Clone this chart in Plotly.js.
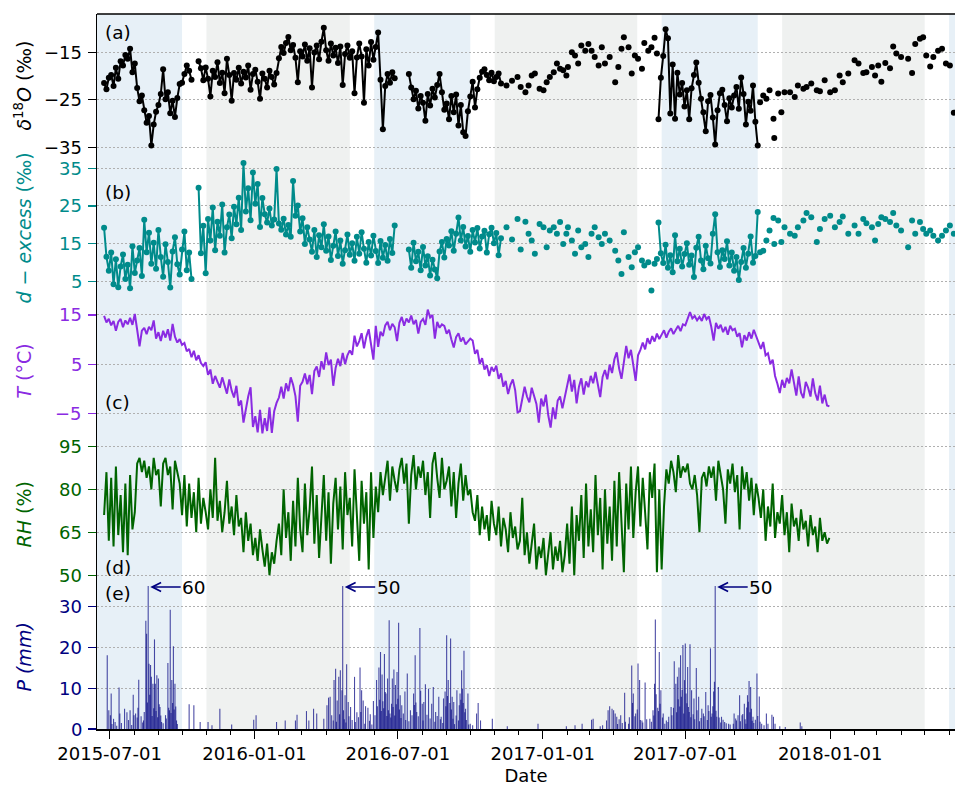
<!DOCTYPE html>
<html><head><meta charset="utf-8">
<script src="https://cdn.plot.ly/plotly-3.0.1.min.js"></script>
<style>html,body{margin:0;padding:0;background:#fff}</style>
</head><body><div id="chart" style="width:955px;height:789px"></div>
<script>
// ---------- DATA (day offsets are days since 2015-07-01) ----------
// Season shading
const wetStart = ['2015-06-01','2016-06-01','2017-06-01','2018-06-01'];
const wetEnd   = ['2015-10-01','2016-10-01','2017-10-01','2018-10-01'];
const dryStart = ['2015-11-01','2016-11-01','2017-11-01'];
const dryEnd   = ['2016-05-01','2017-05-01','2018-05-01'];

// Tick values / labels of the five panels
const ticksA = [-35, -25, -15], labelsA = ['\u221235', '\u221225', '\u221215'];
const ticksB = [5, 15, 25, 35], labelsB = ['5', '15', '25', '35'];
const ticksC = [-5, 5, 15], labelsC = ['\u22125', '5', '15'];
const ticksD = [50, 65, 80, 95], labelsD = ['50', '65', '80', '95'];
const ticksE = [0, 10, 20, 30], labelsE = ['0', '10', '20', '30'];

// (a) delta18O, daily samples (every 3rd day shown), first day -7, null = no sample
const o18Day0 = -7;
const o18Dense = [
 -21.5,-22.8,-20.4,
 -19.8,-22.1,-18.3,-20.6,-16.9,-17.8,-15.6,-16.4,-14.3,-19.2,
 -17.4,-22.5,-25.3,-24.1,-27.2,-29.8,-28.4,-34.6,-30.2,-27.5,
 -26.1,-23.8,-18.6,-24.9,-23.4,-27.8,-25.2,-28.6,-24.6,-21.7,
 -21.4,-19.6,-17.8,-18.9,-20.8,null,null,-16.9,-18.4,-20.9,-18.2,
 -20.6,-24.3,-18.9,-20.2,-17.1,-21.5,-19.3,-23.6,-16.4,-19.8,
 -25.2,-19.4,-20.8,-18.3,-21.6,-19.1,-20.3,-17.8,-22.9,-19.6,
 -18.7,-21.2,-24.8,-19.5,-20.6,-22.4,-18.9,-20.2,-21.8,-19.4,
 -16.3,-13.9,-15.2,-13.1,-11.8,-14.6,-13.5,-16.2,-21.3,-14.8,
 -15.9,-13.4,-16.8,-14.2,-22.4,-15.1,-13.6,-16.5,-12.8,-9.9,
 -14.6,-16.8,-13.2,-15.7,-14.1,-17.3,-13.8,-21.9,-15.4,-13.6,-16.2,
 -14.8,-23.6,-16.1,-13.2,-15.9,-25.6,-14.4,-17.8,-12.9,-16.6,
 -13.9,-10.9,-20.8,-31.2,-22.1,-19.6,-21.4,-19.2,-20.5,null,
 null,null,null,null,-19.6,-22.4,-24.9,-23.1,-26.8,-24.2,
 -25.6,-29.4,-23.8,-26.2,-22.7,-24.5,-21.9,-19.6,-23.4,-27.1,
 -25.8,-29.1,-24.2,-27.6,-23.9,-30.4,-26.1,-31.8,-32.6,-27.4,
 -24.3,-21.2,-26.6,-22.8,-20.4,-19.1,-18.6,-19.8,-20.9,-19.3,-21.1,
 -20.2,-19.5,-21.6];
const o18Day0b = 697;
const o18Dense2 = [-29.1,-20.4,-15.8,-10.2,-12.1,-27.9,-17.6,-29.0,-19.3,-23.9,-21.5,-26.4,-23.0,-29.1,
 -22.6,-19.8,-17.2,-21.4,-24.8,-27.6,-31.6,-25.3,-24.0,-28.7,-34.4,-27.2,-23.6,-22.9,-26.1,-29.5,
 -24.7,-26.6,-24.1,-22.3,-26.9,-20.3,-23.8,-30.2,-25.4,-27.3,-22.0,-29.6,-34.6];
const o18Sparse = [[504,-22.0],[511,-21.0],[518,-20.2],[522,-22.3],[528,-23.4],[532,-22.0],[536,-19.9],[540,-19.5],
 [546,-22.7],[551,-23.0],[555,-21.3],[559,-20.2],[564,-19.2],[568,-17.4],[572,-18.5],[576,-18.8],[580,-19.9],
 [582,-18.1],[587,-15.0],[591,-15.7],[595,-17.4],[599,-13.6],[604,-14.7],[608,-13.3],[612,-14.7],[616,-16.0],
 [621,-17.8],[625,-14.0],[629,-17.4],[635,-16.0],[642,-21.3],[646,-18.1],[650,-14.3],[653,-11.9],[659,-14.0],
 [663,-19.5],[667,-15.7],[671,-16.4],[676,-18.5],[679,-13.1],[684,-14.7],[688,-14.0],[692,-12.0],[695,-15.3],
 [826,-25.5],[830,-24.1],[834,-24.8],[838,-23.0],[843,-29.0],[844,-33.0],[849,-23.7],[853,-27.6],[857,-23.4],
 [864,-23.4],[870,-24.4],[874,-22.0],[881,-22.7],[885,-22.3],[891,-21.6],[898,-23.0],[902,-23.2],[908,-20.9],
 [915,-23.4],[921,-23.0],[927,-19.9],[931,-21.3],[938,-19.5],[946,-16.7],[951,-17.4],[957,-19.4],[961,-19.2],
 [968,-18.1],[972,-19.9],[976,-17.8],[980,-21.2],[985,-17.3],[991,-18.4],[995,-13.8],[999,-15.3],[1005,-16.0],
 [1014,-16.4],[1019,-19.4],[1023,-13.3],[1029,-12.2],[1033,-11.9],[1037,-15.7],[1042,-18.0],[1046,-16.0],
 [1052,-14.7],[1057,-14.3],[1062,-17.4],[1067,-17.8],[1072,-27.7]];

// (b) d-excess, same sampling days
const dexDense = [
 19.2,11.5,7.8,
 12.6,4.2,10.8,3.4,8.9,12.1,5.6,9.4,3.1,14.3,
 7.2,10.5,13.8,6.4,21.3,12.7,17.9,9.6,15.2,8.3,
 18.6,11.4,6.2,14.8,10.1,3.3,12.9,16.7,9.5,6.8,
 13.4,18.2,7.9,12.6,5.6,null,null,29.8,12.4,19.7,7.1,
 21.5,15.8,24.6,13.2,20.8,17.1,25.4,12.6,19.3,22.7,
 16.4,24.8,20.1,27.2,18.6,36.4,23.5,29.7,21.2,33.9,
 25.6,30.8,19.4,27.1,22.8,20.6,24.3,19.8,21.4,34.8,
 20.3,18.7,21.6,17.4,19.9,16.8,31.6,22.4,25.1,18.2,
 21.7,14.9,19.3,16.1,12.8,18.6,11.4,17.2,14.0,20.1,
 13.1,16.9,10.6,14.4,18.2,11.7,15.8,9.6,13.2,17.4,12.0,
 15.1,10.4,16.8,12.3,18.0,13.6,9.9,15.4,11.8,17.1,
 13.0,9.8,15.7,11.2,14.6,10.4,16.2,12.5,19.8,null,
 null,null,null,null,13.4,8.6,15.2,10.3,12.8,7.9,
 14.1,9.2,11.6,6.5,10.7,8.1,5.8,12.9,15.4,11.3,
 16.2,14.5,18.3,13.1,17.6,21.9,15.8,19.4,14.2,17.0,
 12.8,18.6,15.3,19.1,13.7,16.9,18.4,12.6,17.5,19.2,15.1,
 17.8,11.9,16.4];
const dexDense2 = [20.6,12.4,9.8,14.7,8.6,11.9,7.4,17.2,10.3,13.6,8.9,12.2,15.1,9.4,11.8,6.1,13.9,16.8,10.5,8.2,
 14.4,11.1,9.7,17.6,22.8,12.7,8.8,13.2,10.9,15.6,9.2,12.6,7.8,11.4,5.3,10.1,13.8,8.6,12.3,16.9,9.9,11.7,23.4];
const dexSparse = [[504,19.3],[511,16.1],[518,21.5],[522,13.4],[528,20.8],[532,17.6],[536,15.8],[540,12.3],
 [546,20.2],[551,19.3],[555,14.0],[559,18.5],[564,19.3],[568,17.6],[572,20.7],[576,14.9],[580,17.6],[582,19.3],
 [587,15.8],[591,12.3],[595,18.5],[599,14.0],[604,14.9],[608,11.4],[612,17.6],[616,19.3],[621,16.7],[625,14.9],
 [629,17.6],[635,15.8],[642,13.1],[646,10.5],[650,6.9],[653,18.0],[659,11.4],[663,8.7],[667,12.7],[671,14.0],
 [676,10.5],[679,9.2],[684,10.0],[688,2.5],[692,9.6],[695,10.9],
 [826,12.7],[830,13.1],[834,15.8],[838,18.5],[843,21.8],[844,14.9],[849,21.1],[853,15.4],[857,19.3],[864,17.6],
 [870,17.1],[874,19.3],[881,21.1],[885,23.1],[891,22.0],[898,15.4],[902,18.9],[908,21.5],[915,22.4],[921,19.3],
 [927,20.7],[931,22.2],[938,17.6],[946,19.8],[951,17.6],[957,21.5],[961,20.4],[968,19.3],[972,15.8],[976,20.2],
 [980,22.0],[985,21.5],[991,20.7],[995,23.1],[999,19.8],[1005,18.5],[1014,14.0],[1019,21.1],[1023,17.6],
 [1029,20.7],[1033,18.9],[1037,17.6],[1042,18.5],[1046,17.1],[1052,15.8],[1057,17.1],[1062,18.5],[1067,19.8],
 [1072,17.6]];

// (c) air temperature and (d) relative humidity, every 3rd day from day -7
const metDay0 = -7;
const tempC = [
 14.8,13.5,14.2,
 12.9,13.8,11.8,13.6,14.2,12.5,13.9,13.1,14.4,13.0,
 15.2,12.0,8.6,11.8,12.4,11.1,12.6,11.9,13.9,10.2,
 11.5,9.7,11.8,10.4,12.1,9.8,13.2,10.6,9.4,10.1,
 8.9,9.3,7.6,8.1,6.4,7.7,5.8,6.8,5.2,4.6,5.4,
 2.8,3.9,1.0,2.6,1.4,0.2,2.3,0.8,-1.0,1.9,
 -0.4,-1.8,0.6,-3.5,-2.4,-6.9,-4.1,-1.6,0.3,-7.8,
 -5.6,-8.9,-4.3,-9.1,-6.0,-8.6,-3.8,-9.0,-4.6,-2.9,
 -1.8,0.4,-2.0,1.1,-0.5,2.3,0.8,-1.5,-6.7,0.6,
 1.4,3.1,0.9,2.8,-1.1,3.6,4.5,2.4,5.6,3.9,
 7.4,4.8,5.9,0.6,4.2,6.1,4.6,7.3,5.0,6.8,7.8,
 6.9,10.8,8.6,9.7,11.3,8.2,10.6,12.1,9.1,5.9,
 12.8,8.5,11.6,10.7,12.9,13.6,11.9,13.2,12.5,9.7,
 13.4,14.6,12.8,14.3,13.5,14.9,13.1,14.0,11.2,13.6,
 14.2,13.0,16.1,14.5,15.0,10.2,13.6,12.4,13.1,12.8,
 11.2,12.0,10.0,8.4,10.5,11.3,9.6,10.4,9.0,9.5,
 10.2,9.8,7.1,7.9,5.0,6.2,3.9,4.8,2.6,4.4,3.5,
 4.7,2.0,3.1,0.4,1.6,-1.1,0.8,1.9,-0.3,-4.8,
 -4.6,-2.2,0.4,-1.6,-2.8,0.2,-1.3,-3.1,-6.9,-2.0,
 -3.6,-1.2,-5.4,-7.9,-3.8,-6.2,-2.4,-1.6,-4.0,-1.9,
 0.8,2.9,-0.6,1.8,-3.0,0.4,2.1,-1.2,1.5,0.3,
 2.6,1.1,3.4,0.6,-1.7,2.4,3.8,1.9,4.9,3.2,
 6.0,7.4,4.1,2.0,5.7,8.7,6.2,7.9,4.8,1.6,
 6.8,7.9,9.4,8.0,10.3,9.1,10.7,9.6,11.2,10.1,
 11.0,11.9,10.4,11.6,12.3,11.1,12.0,12.8,11.7,13.1,
 12.9,14.2,15.6,14.3,14.8,13.9,14.6,13.8,15.2,14.1,14.7,
 12.6,9.8,13.4,12.2,13.0,11.5,12.6,11.0,12.8,11.9,
 12.2,10.6,11.3,8.4,10.9,9.8,11.5,10.2,12.0,10.8,
 9.7,8.1,9.5,6.8,7.2,5.0,5.9,2.6,1.0,-0.9,
 1.8,0.2,2.2,1.1,3.9,1.6,-1.4,2.5,-0.8,-1.9,
 1.4,0.2,-1.6,2.1,-0.9,-2.4,0.6,-3.0,-1.2,-3.4,-3.6];
const relHum = [
 71,86,62,
 84,60,88,64,78,58,82,57,85,66,
 72,89,91,86,90,84,88,80,91,85,
 87,74,89,91,85,88,73,90,86,82,
 71,85,67,82,70,79,65,84,68,77,72,
 66,80,70,91,69,76,65,72,83,68,
 74,64,78,67,70,58,72,62,68,57,
 63,55,66,59,53,61,50,58,54,62,
 68,57,80,63,72,55,76,60,84,66,
 58,82,64,73,88,61,78,56,70,85,
 62,79,54,75,84,66,81,59,86,71,77,
 60,87,73,55,83,68,79,52,86,63,
 81,72,86,78,84,90,76,88,83,79,
 87,91,82,89,68,85,92,80,88,84,
 90,78,86,70,89,93,84,77,91,80,
 83,88,74,86,70,82,89,76,85,78,
 80,72,69,78,64,74,66,71,62,76,68,
 64,74,60,70,66,58,72,63,67,59,
 62,77,57,65,54,61,68,52,60,56,
 63,50,58,65,52,60,55,62,51,57,
 68,54,74,50,71,62,78,56,82,60,
 73,58,85,64,77,52,80,61,74,55,
 83,60,86,70,51,82,66,88,63,79,
 88,67,84,72,59,86,77,89,51,80,
 52,74,87,82,90,86,79,92,84,88,
 86,89,82,80,85,78,65,84,86,81,88,
 84,88,76,90,85,80,68,87,82,89,
 79,85,66,88,80,86,76,84,71,82,
 77,70,80,62,74,67,82,63,72,68,
 78,64,72,58,75,67,70,62,73,66,
 69,60,71,64,67,58,70,62,65,61,63];

// (e) daily precipitation [day, mm]
const rain = [[-3,18.1],[-1,4.6],[1,3.4],[2,8.7],[7,1.7],[12,10.2],[13,3.8],[19,5.0],[22,4.1],[26,4.6],[30,8.4],
 [31,3.4],[33,3.8],[36,5.2],[37,12.1],[43,2.1],[46,26.6],[47,23.4],[49,60],[50,16.0],[52,15.7],[53,12.8],[55,11.1],
 [57,22.0],[58,11.1],[60,13.2],[62,12.4],[64,5.4],[66,1.7],[71,3.4],[74,16.2],[76,4.6],[77,29.3],[79,12.0],
 [81,20.3],[83,11.1],[85,2.1],[101,6.1],[107,5.8],[115,1.7],[125,1.7],[130,0.9],[140,5.0],[155,1.1],[183,2.3],
 [186,3.4],[212,1.7],[223,2.1],[236,2.1],[238,3.5],[250,4.4],[253,2.1],[259,5.0],[263,3.8],[272,2.5],[276,5.8],
 [278,7.7],[280,7.9],[282,3.4],[285,12.0],[287,14.8],[289,7.0],[291,12.8],[293,14.4],[295,9.5],[296,50],[297,4.6],
 [299,8.3],[301,15.9],[303,6.6],[306,5.4],[311,12.8],[314,4.1],[318,15.1],[320,9.5],[322,7.0],[325,5.6],[328,5.2],
 [331,3.6],[335,6.9],[339,12.0],[342,15.1],[344,18.9],[346,13.4],[349,18.4],[351,8.7],[353,12.4],[355,26.7],
 [356,3.8],[359,12.4],[361,14.6],[363,10.8],[365,14.0],[367,26.1],[369,8.3],[371,5.8],[375,9.2],[378,13.6],
 [382,4.6],[386,8.7],[388,18.1],[390,4.2],[394,24.8],[397,6.2],[399,6.6],[401,11.0],[405,9.9],[409,6.2],[411,10.3],
 [414,4.2],[418,7.9],[421,3.0],[424,7.5],[426,9.2],[428,23.0],[430,12.0],[433,22.2],[435,7.9],[437,6.6],[441,9.5],
 [444,5.8],[445,8.7],[447,14.4],[450,19.2],[452,5.0],[455,8.7],[458,1.3],[461,0.9],[466,3.8],[468,6.4],[471,2.1],
 [486,2.5],[505,0.7],
 [544,1.3],[580,0.7],[591,0.9],[600,1.3],[612,2.3],[614,2.5],[623,0.7],[626,0.9],[631,2.1],[633,4.6],[635,5.6],
 [638,5.0],[640,4.6],[642,3.8],[644,3.0],[649,3.4],[654,8.9],[659,1.3],[663,15.6],[665,8.7],[668,3.8],[671,16.1],
 [673,12.0],[676,2.1],[680,11.4],[686,2.5],[690,4.6],[692,11.1],[693,26.9],[696,5.2],[698,18.9],[700,9.5],
 [703,3.8],[707,2.1],[710,3.0],[713,5.4],[717,16.6],[719,11.1],[721,12.8],[723,15.1],[725,18.1],[726,7.9],
 [728,20.6],[730,12.0],[731,21.0],[734,15.2],[735,5.4],[737,20.8],[739,9.5],[742,7.5],[745,15.0],[748,7.9],
 [752,5.0],[754,3.8],[757,9.1],[760,5.8],[763,19.8],[765,3.8],[768,11.6],[769,50],[771,3.0],[773,10.3],[777,3.0],
 [781,1.7],[786,1.3],[792,1.3],[793,3.8],[796,2.1],[800,8.3],[803,3.4],[806,6.2],[808,1.3],[810,8.3],[812,11.8],
 [814,10.3],[815,5.0],[817,3.0],[820,2.3],[822,13.6],[825,8.0],[828,1.3],[831,0.9],[834,3.8],[836,1.3],[841,3.5],
 [843,3.0],[845,1.3],[851,0.7],[858,0.5],[877,1.6],[879,0.7]];
const rainSmall = [[3,1.2],[5,2.5],[9,0.8],[15,1.5],[24,2.2],[28,1.0],[35,2.8],[40,3.1],[42,1.6],[44,4.2],[48,6.5],
 [51,8.4],[54,3.2],[56,5.1],[59,4.4],[61,2.9],[63,6.1],[65,3.3],[68,1.4],[72,2.6],[75,5.2],[78,3.9],[80,6.4],
 [82,4.8],[84,5.5],[86,1.2],[284,2.1],[288,1.8],[292,3.6],[298,2.4],[300,1.6],[304,3.1],[308,2.2],[312,1.7],
 [316,2.9],[319,4.2],[324,1.3],[330,2.0],[333,1.1],[337,3.4],[340,5.6],[343,7.2],[345,4.4],[347,6.8],[348,5.1],
 [350,9.1],[352,3.2],[354,4.6],[357,2.8],[358,6.2],[360,5.4],[362,3.3],[364,6.1],[366,7.4],[368,4.8],[370,2.7],
 [373,3.8],[376,2.2],[380,1.9],[384,3.4],[387,5.9],[389,6.5],[392,3.1],[395,9.4],[398,2.1],[403,3.5],[407,2.6],
 [413,1.8],[416,3.2],[420,2.4],[423,1.5],[427,5.6],[429,8.1],[432,6.4],[434,4.8],[436,2.5],[438,1.2],[440,3.3],
 [443,2.1],[446,7.2],[448,9.8],[449,6.4],[451,4.1],[453,2.2],[456,1.1],
 [645,1.2],[647,2.4],[651,1.5],[655,1.8],[660,2.9],[664,6.4],[667,3.1],[670,4.8],[674,2.2],[677,1.6],[682,2.4],
 [688,1.8],[691,3.3],[694,8.5],[697,4.4],[699,6.2],[702,2.8],[705,1.3],[709,1.7],[714,3.4],[716,5.2],[720,4.1],
 [722,7.3],[724,5.5],[727,9.6],[729,3.8],[732,8.7],[733,6.3],[736,4.2],[738,2.9],[741,3.6],[743,2.4],[746,4.6],
 [749,1.9],[751,2.7],[755,3.1],[759,2.2],[761,4.4],[764,3.0],[766,5.6],[767,9.2],[770,4.5],[774,2.8],[776,1.6],
 [779,2.3],[783,1.4],[788,1.1],[795,2.6],[798,3.4],[801,1.9],[804,3.7],[807,2.4],[809,5.3],[811,6.7],[813,4.1],
 [816,2.0],[818,1.5],[823,3.2],[826,1.8]];
const peakDay = [49, 296, 769];
const peakLabel = ['60', '50', '50'];

// ---------- BUILD ----------
const DAY0 = Date.UTC(2015, 6, 1);
function dayToDate(d) { return new Date(DAY0 + d * 86400000).toISOString().slice(0, 10); }
function gridDates(d0, step, n) { const o = []; for (let i = 0; i < n; i++) o.push(dayToDate(d0 + step * i)); return o; }

const FONT = 'DejaVu Sans';
const C_A = '#000000', C_B = '#008b8b', C_C = '#8a2be2', C_D = '#006400', C_E = '#000080';

function isoTraces(dense, dense2, sparse, color, yax) {
  const mk = {size: 6, color: color};
  return [
    {x: gridDates(o18Day0, 3, dense.length), y: dense, mode: 'lines+markers', yaxis: yax,
     line: {color: color, width: 2}, marker: mk, connectgaps: false},
    {x: gridDates(o18Day0b, 3, dense2.length), y: dense2, mode: 'lines+markers', yaxis: yax,
     line: {color: color, width: 2}, marker: mk},
    {x: sparse.map(p => dayToDate(p[0])), y: sparse.map(p => p[1]), mode: 'markers', yaxis: yax, marker: mk}
  ];
}

const rx = [], ry = [];
rain.concat(rainSmall).forEach(p => { const d = dayToDate(p[0]); rx.push(d, d, null); ry.push(0, p[1], null); });

const traces = [
  ...isoTraces(o18Dense, o18Dense2, o18Sparse, C_A, 'y'),
  ...isoTraces(dexDense, dexDense2, dexSparse, C_B, 'y2'),
  {x: gridDates(metDay0, 3, tempC.length), y: tempC, mode: 'lines', yaxis: 'y3', line: {color: C_C, width: 2}},
  {x: gridDates(metDay0, 3, relHum.length), y: relHum, mode: 'lines', yaxis: 'y4', line: {color: C_D, width: 2}},
  {x: rx, y: ry, mode: 'lines', yaxis: 'y5', line: {color: 'rgba(0,0,128,0.7)', width: 1.1}}
];

function yax(domain, range, vals, color) {
  return {domain: domain, range: range, tickmode: 'array', tickvals: vals, showticklabels: false, anchor: 'x',
    showline: true, linecolor: 'black', linewidth: 1.5,
    ticks: 'outside', ticklen: 8, tickwidth: 1.2, tickcolor: color,
    showgrid: true, gridcolor: '#b0b0b0', gridwidth: 1, griddash: '1.5px,2.5px', zeroline: false};
}

const shapes = [];
wetStart.forEach((s, i) => shapes.push({type: 'rect', xref: 'x', yref: 'paper', x0: s, x1: wetEnd[i], y0: 0, y1: 1,
  fillcolor: '#e7f0f7', line: {width: 0}, layer: 'below'}));
dryStart.forEach((s, i) => shapes.push({type: 'rect', xref: 'x', yref: 'paper', x0: s, x1: dryEnd[i], y0: 0, y1: 1,
  fillcolor: '#eff1f0', line: {width: 0}, layer: 'below'}));
shapes.push({type: 'line', xref: 'paper', yref: 'paper', x0: 0, x1: 1, y0: 1, y1: 1, line: {color: 'black', width: 1.5}});

const ann = [];
// y tick labels of the five panels
[['y', ticksA, labelsA, C_A], ['y2', ticksB, labelsB, C_B], ['y3', ticksC, labelsC, C_C],
 ['y4', ticksD, labelsD, C_D], ['y5', ticksE, labelsE, C_E]].forEach(s => {
  s[1].forEach((v, i) => ann.push({text: s[2][i], xref: 'paper', yref: s[0], x: 0, y: v, xanchor: 'right',
    yanchor: 'middle', xshift: -13, showarrow: false, font: {family: FONT, size: 18, color: s[3]}}));
});

const titleX = -0.0862;
[
  {text: '<i>δ</i><sup>18</sup><i>O</i> (‰)', y: 0.9, color: C_A},
  {text: '<i>d − excess</i> (‰)', y: 0.7, color: C_B},
  {text: '<i>T</i> (°C)', y: 0.5, color: C_C},
  {text: '<i>RH</i> (%)', y: 0.3, color: C_D},
  {text: '<i>P (mm)</i>', y: 0.1, color: C_E}
].forEach(a => ann.push({text: a.text, xref: 'paper', yref: 'paper', x: titleX, y: a.y, xanchor: 'center', yanchor: 'middle',
  textangle: -90, showarrow: false, font: {family: FONT, size: 19, color: a.color}}));

[['(a)', 0.9748], ['(b)', 0.751], ['(c)', 0.456], ['(d)', 0.2252], ['(e)', 0.1898]].forEach(p => ann.push({
  text: p[0], xref: 'paper', yref: 'paper', x: 0.007, y: p[1], xanchor: 'left', yanchor: 'middle',
  showarrow: false, font: {family: FONT, size: 18.5, color: 'black'}}));

peakDay.forEach((d, i) => ann.push({text: peakLabel[i], xref: 'x', yref: 'y5', x: dayToDate(d), y: 34.85,
  ax: 46, ay: 0, showarrow: true, arrowhead: 5, arrowsize: 1.1, arrowwidth: 1.6, arrowcolor: C_E, standoff: 2,
  font: {family: FONT, size: 18.5, color: 'black'}}));

const layout = {
  width: 955, height: 789, margin: {l: 97, r: 0, t: 14, b: 60},
  paper_bgcolor: 'white', plot_bgcolor: 'rgba(0,0,0,0)', showlegend: false,
  font: {family: FONT},
  xaxis: {type: 'date', anchor: 'y5', domain: [0, 1], range: ['2015-06-15', '2018-06-08 12:00'],
    tick0: '2015-07-01', dtick: 'M6', tickformat: '%Y-%m-%d', ticks: 'outside', ticklen: 8, tickwidth: 1.2,
    tickcolor: 'black', showline: true, linecolor: 'black', linewidth: 1.5, showgrid: false, zeroline: false,
    tickfont: {family: FONT, size: 18, color: 'black'},
    minor: {dtick: 'M1', tick0: '2015-07-01', ticks: 'outside', ticklen: 4, tickwidth: 1, tickcolor: 'black', showgrid: false},
    title: {text: 'Date', font: {family: FONT, size: 18, color: 'black'}, standoff: 6}},
  yaxis:  yax([0.8, 1.0], [-37, -7], ticksA, C_A),
  yaxis2: yax([0.6, 0.8], [0, 38], ticksB, C_B),
  yaxis3: yax([0.4, 0.6], [-11.05, 18.05], ticksC, C_C),
  yaxis4: yax([0.2, 0.4], [46.2, 96.2], ticksD, C_D),
  yaxis5: yax([0.0, 0.2], [0, 35.1], ticksE, C_E),
  shapes: shapes, annotations: ann
};

Plotly.newPlot('chart', traces, layout, {displayModeBar: false, staticPlot: true});
</script></body></html>
